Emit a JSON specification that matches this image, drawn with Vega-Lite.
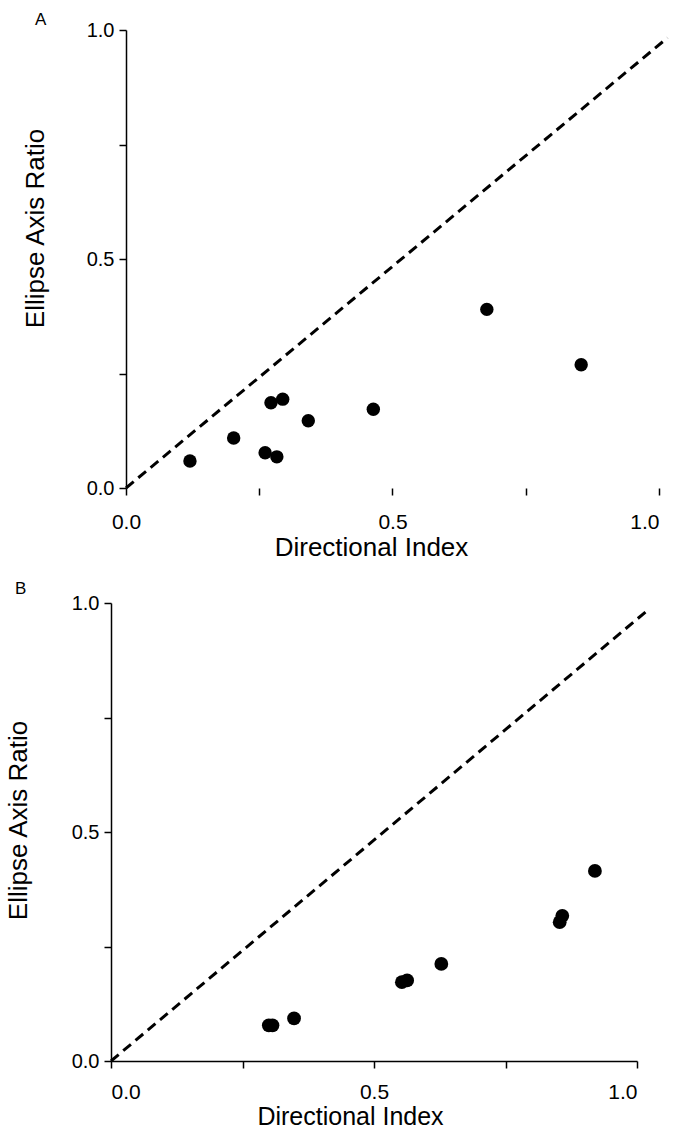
{
  "$schema": "https://vega.github.io/schema/vega-lite/v6.json",
  "padding": {"left": 5, "top": 11, "right": 5, "bottom": 0},
  "spacing": 20,
  "background": "white",
  "config": {
    "view": {"stroke": null},
    "font": "Liberation Sans",
    "axis": {
      "grid": false,
      "domainColor": "black",
      "domainWidth": 1.5,
      "tickColor": "black",
      "tickWidth": 1.5,
      "tickSize": 7,
      "labelColor": "black",
      "titleColor": "black",
      "labelFont": "Liberation Sans",
      "titleFont": "Liberation Sans",
      "titleFontWeight": "normal",
      "titleFontSize": 26,
      "labelFontSize": 20
    },
    "title": {"font": "Liberation Sans", "fontSize": 17, "fontWeight": "normal", "anchor": "start", "frame": "group", "color": "black"}
  },
  "datasets": {
    "ptsA": [
      {"x": 0.120, "y": 0.059},
      {"x": 0.202, "y": 0.109},
      {"x": 0.261, "y": 0.077},
      {"x": 0.283, "y": 0.068},
      {"x": 0.272, "y": 0.186},
      {"x": 0.294, "y": 0.194},
      {"x": 0.342, "y": 0.147},
      {"x": 0.464, "y": 0.172},
      {"x": 0.677, "y": 0.390},
      {"x": 0.854, "y": 0.269}
    ],
    "lineA": [{"x": 0, "y": 0}, {"x": 1.016, "y": 0.983}],
    "ptsB": [
      {"x": 0.300, "y": 0.078},
      {"x": 0.307, "y": 0.078},
      {"x": 0.348, "y": 0.093},
      {"x": 0.553, "y": 0.172},
      {"x": 0.563, "y": 0.176},
      {"x": 0.628, "y": 0.212},
      {"x": 0.853, "y": 0.303},
      {"x": 0.858, "y": 0.317},
      {"x": 0.920, "y": 0.415}
    ],
    "lineB": [{"x": 0, "y": 0}, {"x": 1.021, "y": 0.985}]
  },
  "vconcat": [
    {
      "title": {"text": "A", "dx": -76, "offset": -9},
      "width": 548,
      "height": 458,
      "encoding": {
        "x": {
          "field": "x", "type": "quantitative",
          "scale": {"domain": [-0.02814, 1], "nice": false, "zero": false},
          "axis": {
            "title": "Directional Index",
            "domain": false,
            "values": [0, 0.25, 0.5, 0.75, 1],
            "labelExpr": "datum.value == 0.25 || datum.value == 0.75 ? '' : format(datum.value, '.1f')",
            "labelFontSize": 21,
            "labelPadding": 16,
            "titlePadding": 2,
            "titleX": 260
          }
        },
        "y": {
          "field": "y", "type": "quantitative",
          "scale": {"domain": [0, 1], "nice": false},
          "axis": {
            "title": "Ellipse Axis Ratio",
            "offset": -15,
            "values": [0, 0.25, 0.5, 0.75, 1],
            "labelExpr": "datum.value == 0.25 || datum.value == 0.75 ? '' : format(datum.value, '.1f')",
            "labelPadding": 5,
            "titlePadding": 38,
            "titleY": 198
          }
        }
      },
      "layer": [
        {
          "data": {"values": [{}]},
          "mark": {"type": "rule", "color": "black", "strokeWidth": 1.5},
          "encoding": {
            "x": {"datum": 0, "type": "quantitative"},
            "x2": {"datum": 1},
            "y": {"datum": 0, "type": "quantitative"}
          }
        },
        {
          "data": {"name": "lineA"},
          "mark": {"type": "line", "color": "black", "strokeWidth": 3, "strokeDash": [10, 6]}
        },
        {
          "data": {"name": "ptsA"},
          "mark": {"type": "circle", "color": "black", "opacity": 1, "size": 180}
        }
      ]
    },
    {
      "title": {"text": "B", "dx": -96, "offset": -5},
      "width": 526,
      "height": 458,
      "encoding": {
        "x": {
          "field": "x", "type": "quantitative",
          "scale": {"domain": [0, 1], "nice": false, "zero": false},
          "axis": {
            "title": "Directional Index",
            "values": [0, 0.25, 0.5, 0.75, 1],
            "labelExpr": "datum.value == 0.25 || datum.value == 0.75 ? '' : format(datum.value, '.1f')",
            "labelFontSize": 21,
            "labelPadding": 13,
            "titleFontSize": 25,
            "titlePadding": 2,
            "titleX": 239
          }
        },
        "y": {
          "field": "y", "type": "quantitative",
          "scale": {"domain": [0, 1], "nice": false},
          "axis": {
            "title": "Ellipse Axis Ratio",
            "values": [0, 0.25, 0.5, 0.75, 1],
            "labelExpr": "datum.value == 0.25 || datum.value == 0.75 ? '' : format(datum.value, '.1f')",
            "labelPadding": 5,
            "titlePadding": 40,
            "titleY": 217
          }
        }
      },
      "layer": [
        {
          "data": {"name": "lineB"},
          "mark": {"type": "line", "color": "black", "strokeWidth": 3, "strokeDash": [10, 6]}
        },
        {
          "data": {"name": "ptsB"},
          "mark": {"type": "circle", "color": "black", "opacity": 1, "size": 190}
        }
      ]
    }
  ]
}
